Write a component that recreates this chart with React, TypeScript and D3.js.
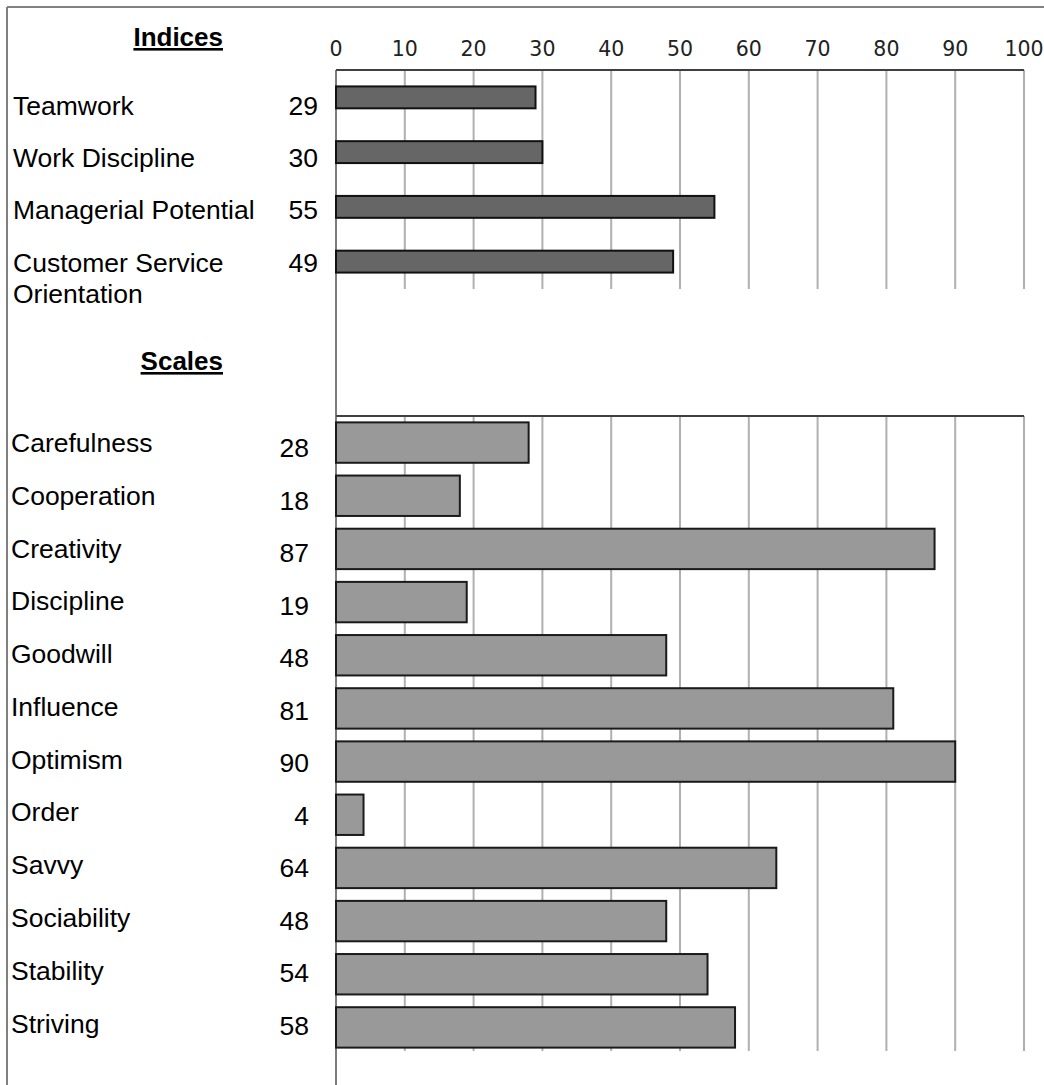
import React from "react";
import * as d3 from "d3";

const indexNames = ["Teamwork", "Work Discipline", "Managerial Potential", "Customer Service\nOrientation"];
const indexValues = [29, 30, 55, 49];
const scaleNames = ["Carefulness", "Cooperation", "Creativity", "Discipline", "Goodwill", "Influence", "Optimism", "Order", "Savvy", "Sociability", "Stability", "Striving"];
const scaleValues = [28, 18, 87, 19, 48, 81, 90, 4, 64, 48, 54, 58];
const tickValues = [0, 10, 20, 30, 40, 50, 60, 70, 80, 90, 100];
const sectionTitles = ["Indices", "Scales"];

const W = 1044;
const H = 1085;
const FONT = "'Liberation Sans', Arial, sans-serif";
const TICKFONT = "'DejaVu Sans', Verdana, sans-serif";
const LABEL_SIZE = 26.5;

export default function App() {
  const x = d3.scaleLinear().domain([0, 100]).range([336, 1024]);
  const yTop = d3.scaleBand<string>().domain(indexNames).range([70, 289]).paddingInner(0.6).paddingOuter(0.3);
  const yBot = d3.scaleBand<string>().domain(scaleNames).range([416, 1054]).paddingInner(0.24).paddingOuter(0.12);
  // text rows (cap-centre positions) sit slightly apart from the bar centres
  const topLabelY = d3.scalePoint<string>().domain(indexNames).range([105, 262]);
  const botLabelY = d3.scalePoint<string>().domain(scaleNames).range([442.5, 1023]);
  const botValueY = d3.scalePoint<string>().domain(scaleNames).range([447.5, 1025]);

  const grid = (y0: number, y1: number, key: string) =>
    tickValues.slice(1).map((t) => (
      <line key={key + t} x1={x(t)} x2={x(t)} y1={y0} y2={y1} stroke="#b0b0b0" strokeWidth={2} />
    ));

  return (
    <svg width={W} height={H} style={{ position: "absolute", left: 0, top: 0, background: "#fff" }}>
      <rect x={0} y={0} width={W} height={H} fill="#fff" />
      {/* outer frame */}
      <line x1={7} x2={W} y1={7} y2={7} stroke="#808080" strokeWidth={2} />
      <line x1={7} x2={7} y1={7} y2={H} stroke="#808080" strokeWidth={2} />

      {/* section titles */}
      {sectionTitles.map((t, i) => (
        <text key={t} x={223} y={i === 0 ? 46 : 370} textAnchor="end" fontFamily={FONT} fontWeight="bold" fontSize={26} textDecoration="underline" fill="#000">
          {t}
        </text>
      ))}

      {/* tick labels */}
      {tickValues.map((t) => (
        <text key={"tl" + t} x={x(t)} y={56} textAnchor="middle" fontFamily={TICKFONT} fontSize={20.5} fill="#222">
          {t}
        </text>
      ))}

      {/* grids */}
      {grid(70, 289, "g1")}
      {grid(416, 1051, "g2")}
      <line x1={x(0)} x2={x(100)} y1={70} y2={70} stroke="#404040" strokeWidth={2} />
      <line x1={x(0)} x2={x(100)} y1={416} y2={416} stroke="#404040" strokeWidth={2} />
      <line x1={x(0)} x2={x(0)} y1={70} y2={H} stroke="#505050" strokeWidth={1.5} />

      {/* index bars */}
      {indexNames.map((n, i) => (
        <rect key={"ib" + i} x={x(0)} y={yTop(n)!} width={x(indexValues[i]) - x(0)} height={yTop.bandwidth()} fill="#666666" stroke="#111" strokeWidth={2} />
      ))}
      {indexNames.map((n, i) => {
        const cy = topLabelY(n)!;
        const lines = n.split("\n");
        return (
          <g key={"il" + i}>
            <text x={13} y={cy + 9.5} fontFamily={FONT} fontSize={LABEL_SIZE} fill="#000">
              {lines.map((l, j) => (
                <tspan key={j} x={13} dy={j === 0 ? 0 : 31}>{l}</tspan>
              ))}
            </text>
            <text x={318} y={cy + 9.5} textAnchor="end" fontFamily={FONT} fontSize={LABEL_SIZE} fill="#000">
              {indexValues[i]}
            </text>
          </g>
        );
      })}

      {/* scale bars */}
      {scaleNames.map((n, i) => (
        <rect key={"sb" + i} x={x(0)} y={yBot(n)!} width={x(scaleValues[i]) - x(0)} height={yBot.bandwidth()} fill="#999999" stroke="#1a1a1a" strokeWidth={2} />
      ))}
      {scaleNames.map((n, i) => (
        <g key={"sl" + i}>
          <text x={11} y={botLabelY(n)! + 9.5} fontFamily={FONT} fontSize={LABEL_SIZE} fill="#000">{n}</text>
          <text x={309} y={botValueY(n)! + 9.5} textAnchor="end" fontFamily={FONT} fontSize={LABEL_SIZE} fill="#000">{scaleValues[i]}</text>
        </g>
      ))}
    </svg>
  );
}
